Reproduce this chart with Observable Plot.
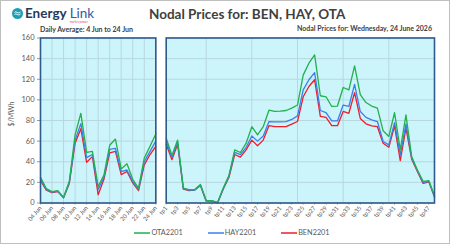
<!DOCTYPE html>
<html>
<head>
<meta charset="utf-8">
<script src="https://cdn.jsdelivr.net/npm/d3@7"></script>
<script src="https://cdn.jsdelivr.net/npm/@observablehq/plot@0.6"></script>
<style>
  html, body { margin: 0; padding: 0; background: #fff; }
  #chart { position: relative; width: 450px; height: 244px; overflow: hidden; background: #fff;
           font-family: Lato, "Open Sans", sans-serif; color: #404040; box-sizing: border-box;
           border: 1px solid #bfbfbf; }
  .abs { position: absolute; white-space: nowrap; }
  #title { left: 148px; top: 5px; font-size: 13.5px; font-weight: 700; color: #404040; }
  #subL { left: 39px; top: 23.5px; font-size: 7px; font-weight: 700; color: #404040; }
  #subR { right: 17px; top: 22.5px; font-size: 7px; font-weight: 700; color: #404040; }
  #ylab { left: 9.7px; top: 112.5px; font-size: 7px; color: #595959; transform: translate(-50%, -50%) rotate(-90deg); }
  #logo { left: 11px; top: 4px; display: flex; align-items: center; }
  #logo .e { font-size: 13.5px; font-weight: 700; color: #1f3a5f; margin-left: 2px; }
  #logo .l { font-size: 13.5px; font-weight: 400; color: #3558a0; margin-left: 3px; position: relative; }
  #logo .tag { position: absolute; left: 0; top: 15px; font-size: 3px; color: #e0506e; }
  #legend { left: 6px; width: 450px; top: 227px; display: flex; justify-content: center; gap: 25px;
            font-size: 7.3px; color: #595959; }
  #legend span { display: inline-flex; align-items: center; }
  #legend svg { margin-right: 1px; }
  .panel { position: absolute; top: 30px; }
  .panel svg { overflow: visible; }
</style>
</head>
<body>
<div id="chart">
  <div id="logo" class="abs">
    <svg width="11" height="11" viewBox="0 0 22 22">
      <circle cx="11" cy="11" r="11" fill="#1b9fb6"/>
      <path d="M5 9 C8 5, 12 13, 17 8" stroke="#fff" stroke-width="2" fill="none"/>
      <path d="M5 13 C8 9, 12 17, 17 12" stroke="#fff" stroke-width="2" fill="none"/>
    </svg>
    <span class="e">Energy</span><span class="l">Link<span class="tag">market power</span></span>
  </div>
  <div id="title" class="abs">Nodal Prices for: BEN, HAY, OTA</div>
  <div id="subL" class="abs">Daily Average: 4 Jun to 24 Jun</div>
  <div id="subR" class="abs">Nodal Prices for: Wednesday, 24 June 2026</div>
  <div id="ylab" class="abs">$/MWh</div>
  <div id="left" class="panel" style="left:0px"></div>
  <div id="right" class="panel" style="left:150px"></div>
  <div id="legend" class="abs"></div>
</div>
<script>
// Daily averages, 4 Jun to 24 Jun
const days = ["2026-06-04","2026-06-05","2026-06-06","2026-06-07","2026-06-08","2026-06-09","2026-06-10",
              "2026-06-11","2026-06-12","2026-06-13","2026-06-14","2026-06-15","2026-06-16","2026-06-17",
              "2026-06-18","2026-06-19","2026-06-20","2026-06-21","2026-06-22","2026-06-23","2026-06-24"];
const dailyOTA = [25,14,11,12,5.5,21,66,87,49,50,16,27,56,62,33,38,23,14.5,43.5,55,67];
const dailyHAY = [23.5,13,10.5,11.5,5,20,61,77,44,47,13,25,52,53,30.5,32,21,13,40,50,60];
const dailyBEN = [22,12.5,10,11,5,19,58,72,39.5,45,8,23,48.5,50,27.5,30.5,19.5,12,37,47,55];

// Trading periods 1..48 for Wednesday 24 June
const periods = [1,2,3,4,5,6,7,8,9,10,11,12,13,14,15,16,17,18,19,20,21,22,23,24,
                 25,26,27,28,29,30,31,32,33,34,35,36,37,38,39,40,41,42,43,44,45,46,47,48];
const tpOTA = [63,46,61,14.5,13,13,18,2.5,2.2,0.5,14.5,27,51.5,49,58,74,66,74,90,88.8,89,89.7,92,95,
               124,135.6,143.6,104,103,93.6,94,112,109.7,133,105,97.4,94,92,70,64.5,87.7,51.5,85.5,45,32,21,21.8,7];
const tpHAY = [60,44,59,14,12.5,12.5,17.5,2,2,0.3,14,26,49,47,54,65,60,65,79,78.7,78.7,79,81,84.5,
               109.7,119.5,126.5,89.7,87.7,79.6,79.6,95,93.6,115,88.7,83,80.6,79,59.6,56.4,78,46.7,76.8,43.5,31.5,20,21,6.3];
const tpBEN = [57,42,57,13.5,12,12.5,17,2,1.8,0,13.5,25,47,44.5,51.5,61,55.5,61,75,74,74,74,76.4,79,
               103,113,119.5,84,83,75,75,88.8,87,107,82,76.8,74.8,74,58,54,74.8,41,72.6,42.5,30.5,19,20.5,5.7];

const nodes = ["OTA2201", "HAY2201", "BEN2201"];
const colors = ["#22b14c", "#3a7ff0", "#ee1d2a"];
const yTicks = [0,20,40,60,80,100,120,140,160];

const parseDay = d3.utcParse("%Y-%m-%d");
const daily = [];
[dailyOTA, dailyHAY, dailyBEN].forEach((vals, k) =>
  vals.forEach((v, i) => daily.push({date: parseDay(days[i]), value: v, node: nodes[k]})));
const byPeriod = [];
[tpOTA, tpHAY, tpBEN].forEach((vals, k) =>
  vals.forEach((v, i) => byPeriod.push({tp: periods[i], value: v, node: nodes[k]})));

const font = "Lato, 'Open Sans', sans-serif";
const gridColor = "#b9d7de";
const bg = "#ccf4fb";
const frameColor = "#2f5b8c";
const common = {
  height: 200, marginTop: 6.5, marginBottom: 28.5,
  style: {fontFamily: font, fontSize: "6px", color: "#595959", background: "transparent"},
  y: {domain: [0, 160]},
  color: {domain: nodes, range: colors}
};

const dayTicks = days.filter((d, i) => i % 2 === 0).map(parseDay);
const left = Plot.plot({
  ...common, width: 160, marginLeft: 39, marginRight: 5.7,
  x: {type: "utc", domain: [parseDay(days[0]), parseDay(days[days.length - 1])]},
  marks: [
    Plot.frame({fill: bg, stroke: null}),
    Plot.gridY(yTicks, {stroke: gridColor, strokeOpacity: 1}),
    Plot.gridX(dayTicks, {stroke: gridColor, strokeOpacity: 1}),
    Plot.axisY(yTicks, {tickSize: 3, tickPadding: 3, fontSize: 7.5, label: null, stroke: "#9a9a9a"}),
    Plot.axisX(dayTicks, {tickFormat: d3.utcFormat("%d %b"), tickRotate: -50, tickSize: 2, tickPadding: 2,
      label: null, stroke: "#9a9a9a"}),
    Plot.line([...daily].reverse(), {x: "date", y: "value", z: "node", stroke: "node", strokeWidth: 1.3}),
    Plot.frame({stroke: frameColor, strokeWidth: 1.6})
  ]
});
document.getElementById("left").appendChild(left);

const tpTicks = periods.filter(p => p % 2 === 1);
const right = Plot.plot({
  ...common, width: 290, marginLeft: 14.7, marginRight: 7,
  x: {domain: [1, 48]},
  marks: [
    Plot.frame({fill: bg, stroke: null}),
    Plot.gridY(yTicks, {stroke: gridColor, strokeOpacity: 1}),
    Plot.gridX([8, 16, 24, 32, 40], {stroke: gridColor, strokeOpacity: 1}),
    Plot.axisY(yTicks, {tickSize: 0, tickFormat: () => "", label: null}),
    Plot.axisX(tpTicks, {tickFormat: d => "tp" + d, tickRotate: -50, tickSize: 2, tickPadding: 2,
      label: null, stroke: "#9a9a9a"}),
    Plot.line([...byPeriod].reverse(), {x: "tp", y: "value", z: "node", stroke: "node", strokeWidth: 1.3}),
    Plot.frame({stroke: frameColor, strokeWidth: 1.6})
  ]
});
document.getElementById("right").appendChild(right);

// Legend
const legend = document.getElementById("legend");
nodes.forEach((n, i) => {
  const s = document.createElement("span");
  s.innerHTML = `<svg width="16" height="4"><line x1="0" y1="2" x2="16" y2="2" stroke="${colors[i]}" stroke-width="1.5"/></svg>${n}`;
  legend.appendChild(s);
});
</script>
</body>
</html>
